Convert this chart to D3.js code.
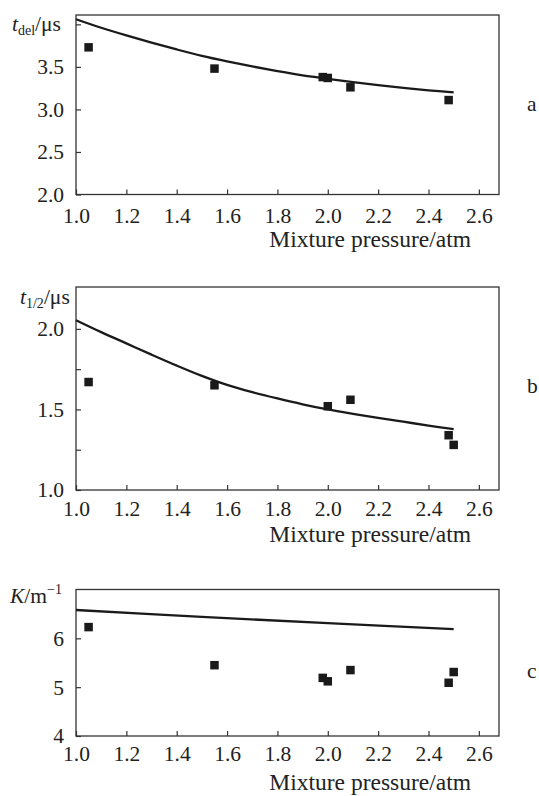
<!DOCTYPE html>
<html>
<head>
<meta charset="utf-8">
<script src="https://cdn.jsdelivr.net/npm/d3@7"></script>
<style>
body { margin: 0; background: #fff; }
svg text { font-family: "Liberation Serif", "Times New Roman", serif; fill: #222; }
</style>
</head>
<body>
<svg width="539" height="796"></svg>
<script>

var pA = [1.05, 1.55, 1.98, 2.00, 2.09, 2.48];
var tdel = [3.73, 3.48, 3.38, 3.37, 3.26, 3.11];

var pB = [1.05, 1.55, 2.00, 2.09, 2.48, 2.50];
var thalf = [1.67, 1.65, 1.52, 1.56, 1.34, 1.28];

var pC = [1.05, 1.55, 1.98, 2.00, 2.09, 2.48, 2.50];
var kMeas = [6.23, 5.45, 5.19, 5.12, 5.35, 5.09, 5.31];

// calculated curves
var pCurve = [1.0, 1.1, 1.2, 1.3, 1.4, 1.5, 1.6, 1.7, 1.8, 1.9, 2.0, 2.1, 2.2, 2.3, 2.4, 2.5];
var tdelCalc = [4.06, 3.96, 3.87, 3.785, 3.705, 3.63, 3.565, 3.505, 3.45, 3.40, 3.36, 3.32, 3.285, 3.253, 3.225, 3.20];
var thalfCalc = [2.054, 1.98, 1.91, 1.84, 1.772, 1.708, 1.652, 1.607, 1.568, 1.532, 1.50, 1.473, 1.448, 1.424, 1.40, 1.378];
var pCurveC = [1.0, 1.5, 2.0, 2.5];
var kCalc = [6.58, 6.44, 6.31, 6.19];

// axes
var xTicks = [1.0, 1.2, 1.4, 1.6, 1.8, 2.0, 2.2, 2.4, 2.6];
var yTicksA = [2.0, 2.5, 3.0, 3.5, 4.0];
var yLabelsA = [2.0, 2.5, 3.0, 3.5];
var yTicksB = [1.0, 1.25, 1.5, 1.75, 2.0];
var yLabelsB = [1.0, 1.5, 2.0];
var yTicksC = [4, 5, 6];
var yLabelsC = [4, 5, 6];

var xTitle = "Mixture pressure/atm";

var svg = d3.select("svg");
var left = 76, right = 499;

var x = d3.scaleLinear()
	.domain([1.0, 2.68])
	.range([left, right]);

var panels = [
	{ top: 15, bottom: 194.5, dom: [2.0, 4.11], ticks: yTicksA, labels: yLabelsA, fmt: ".1f", pad: 13,
	  px: pA, py: tdel, cx: pCurve, cy: tdelCalc, letter: "a", letterY: 111, titleY: 247,
	  ylab: { x: 12, y: 31, main: "t", sub: "del", unit: "/\u03bcs" } },
	{ top: 287, bottom: 490, dom: [1.0, 2.26], ticks: yTicksB, labels: yLabelsB, fmt: ".1f", pad: 11,
	  px: pB, py: thalf, cx: pCurve, cy: thalfCalc, letter: "b", letterY: 393, titleY: 542,
	  ylab: { x: 20, y: 304, main: "t", sub: "1/2", unit: "/\u03bcs" } },
	{ top: 589.5, bottom: 736, dom: [4, 7], ticks: yTicksC, labels: yLabelsC, fmt: "d", pad: 10,
	  px: pC, py: kMeas, cx: pCurveC, cy: kCalc, letter: "c", letterY: 678, titleY: 790,
	  ylab: { x: 10, y: 603, main: "K", unit: "/m", sup: "\u22121" } }
];

panels.forEach(function(p) {

	var y = d3.scaleLinear()
		.domain(p.dom)
		.range([p.bottom, p.top]);

	var g = svg.append("g");
	var f = d3.format(p.fmt);

	// x axis, ticks pointing inward
	var gx = g.append("g")
		.attr("transform", "translate(0," + p.bottom + ")")
		.call(d3.axisBottom(x)
			.tickValues(xTicks)
			.tickSize(-5)
			.tickPadding(p.pad)
			.tickFormat(d3.format(".1f")));

	var gy = g.append("g")
		.attr("transform", "translate(" + left + ",0)")
		.call(d3.axisLeft(y)
			.tickValues(p.ticks)
			.tickSize(-5)
			.tickPadding(12)
			.tickFormat(function(d) { return p.labels.indexOf(d) >= 0 ? f(d) : ""; }));

	[gx, gy].forEach(function(a) {
		a.attr("font-family", null);
		a.select(".domain").remove();
		a.selectAll("line").attr("stroke", "#333").attr("stroke-width", 1.2);
		a.selectAll("text").attr("font-size", 21.5).attr("fill", "#222");
	});

	// frame
	g.append("rect")
		.attr("x", left)
		.attr("y", p.top)
		.attr("width", right - left)
		.attr("height", p.bottom - p.top)
		.attr("fill", "none")
		.attr("stroke", "#333")
		.attr("stroke-width", 1.3);

	var line = d3.line()
		.curve(d3.curveCatmullRom)
		.x(function(d, i) { return x(p.cx[i]); })
		.y(function(d) { return y(d); });

	g.append("path")
		.datum(p.cy)
		.attr("d", line)
		.attr("fill", "none")
		.attr("stroke", "#1a1a1a")
		.attr("stroke-width", 2.3);

	var s = 8.5;
	g.selectAll(".pt")
		.data(p.py)
		.enter().append("rect")
		.attr("class", "pt")
		.attr("x", function(d, i) { return x(p.px[i]) - s / 2; })
		.attr("y", function(d) { return y(d) - s / 2; })
		.attr("width", s)
		.attr("height", s)
		.attr("fill", "#1a1a1a");

	// axis titles
	g.append("text")
		.attr("x", 471)
		.attr("y", p.titleY)
		.attr("text-anchor", "end")
		.attr("font-size", 23.5)
		.text(xTitle);

	var yl = g.append("text")
		.attr("x", p.ylab.x)
		.attr("y", p.ylab.y)
		.attr("font-size", 21.5);
	yl.append("tspan").attr("font-style", "italic").text(p.ylab.main);
	if (p.ylab.sub) {
		yl.append("tspan").attr("font-size", 14).attr("dy", 4).text(p.ylab.sub);
		yl.append("tspan").attr("dy", -4).text(p.ylab.unit);
	} else {
		yl.append("tspan").text(p.ylab.unit);
		yl.append("tspan").attr("font-size", 14).attr("dy", -9).text(p.ylab.sup);
	}

	g.append("text")
		.attr("x", 527)
		.attr("y", p.letterY)
		.attr("font-size", 21.5)
		.text(p.letter);
});

</script>
</body>
</html>
